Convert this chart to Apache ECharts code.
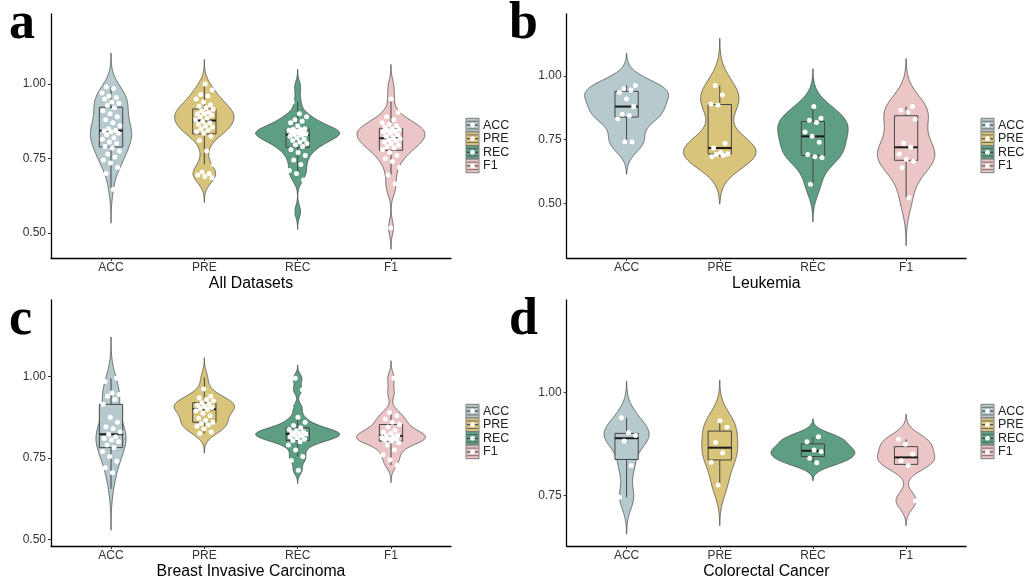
<!DOCTYPE html>
<html><head><meta charset="utf-8">
<script src="https://cdn.jsdelivr.net/npm/echarts@6/dist/echarts.min.js"></script>
<style>html,body{margin:0;padding:0;background:#fff}#c{width:1027px;height:583px}</style>
</head><body><div id="c"></div>
<script>
// ---------- categories / labels ----------
const metrics = ['ACC', 'PRE', 'REC', 'F1'];
const panelLetters = ['a', 'b', 'c', 'd'];
const panelTitles = ['All Datasets', 'Leukemia', 'Breast Invasive Carcinoma', 'Colorectal Cancer'];
const yTickValues = [[0.50, 0.75, 1.00], [0.50, 0.75, 1.00], [0.50, 0.75, 1.00], [0.75, 1.00]];
const yRanges = [[0.4161, 1.2349], [0.2852, 1.2435], [0.4794, 1.2359], [0.6279, 1.2250]];

// ---------- data (per-dataset scores) ----------
const allACC = [0.647,0.70,0.72,0.735,0.745,0.755,0.765,0.775,0.785,0.79,0.80,0.805,0.815,0.82,0.83,0.835,0.84,0.842,0.845,0.85,0.86,0.87,0.88,0.89,0.90,0.91,0.92,0.928,0.935,0.94,0.95,0.955,0.96,0.97,0.985,0.99];
const allPRE = [0.685,0.69,0.695,0.70,0.705,0.73,0.775,0.81,0.825,0.835,0.84,0.845,0.85,0.855,0.86,0.865,0.87,0.875,0.88,0.885,0.89,0.895,0.90,0.90,0.905,0.91,0.915,0.92,0.925,0.93,0.94,0.95,0.96,0.965,0.98,1.00];
const allREC = [0.572,0.678,0.70,0.71,0.73,0.745,0.76,0.77,0.78,0.79,0.795,0.80,0.805,0.81,0.815,0.82,0.825,0.828,0.83,0.832,0.835,0.838,0.84,0.842,0.845,0.847,0.848,0.85,0.86,0.87,0.875,0.88,0.89,0.90,0.94,0.99];
const allF1  = [0.518,0.64,0.665,0.695,0.72,0.74,0.75,0.76,0.77,0.78,0.785,0.79,0.795,0.80,0.805,0.81,0.813,0.816,0.82,0.825,0.83,0.835,0.84,0.842,0.845,0.848,0.85,0.855,0.86,0.865,0.87,0.88,0.89,0.905,0.95,0.993];

const leuACC = [0.741,0.742,0.832,0.845,0.85,0.88,0.91,0.935,0.945,0.95,0.963];
const leuPRE = [0.683,0.688,0.692,0.695,0.70,0.717,0.736,0.886,0.89,0.925,0.963];
const leuREC = [0.575,0.68,0.683,0.692,0.74,0.763,0.78,0.817,0.826,0.834,0.88];
const leuF1  = [0.522,0.64,0.665,0.673,0.694,0.72,0.736,0.83,0.858,0.865,0.88];

const brcACC = [0.655,0.705,0.72,0.74,0.755,0.77,0.782,0.79,0.80,0.805,0.81,0.815,0.823,0.83,0.84,0.846,0.86,0.875,0.915,0.93,0.94,0.945,0.95,0.985,0.995];
const brcPRE = [0.825,0.83,0.84,0.848,0.852,0.856,0.86,0.865,0.872,0.88,0.888,0.895,0.90,0.902,0.905,0.908,0.912,0.916,0.92,0.925,0.93,0.935,0.94,0.962,0.998];
const brcREC = [0.712,0.742,0.755,0.775,0.79,0.80,0.804,0.808,0.812,0.815,0.818,0.821,0.824,0.826,0.828,0.831,0.834,0.838,0.843,0.85,0.86,0.875,0.905,0.96,0.995];
const brcF1  = [0.728,0.745,0.76,0.775,0.79,0.797,0.802,0.805,0.808,0.81,0.813,0.816,0.818,0.82,0.825,0.83,0.835,0.845,0.853,0.86,0.87,0.88,0.89,0.95,0.995];

const crcACC = [0.746,0.823,0.883,0.896,0.903,0.939];
const crcPRE = [0.776,0.831,0.854,0.879,0.916,0.932];
const crcREC = [0.830,0.841,0.857,0.861,0.881,0.893];
const crcF1  = [0.738,0.823,0.835,0.851,0.875,0.887];

const panelData = [
  [allACC, allPRE, allREC, allF1],
  [leuACC, leuPRE, leuREC, leuF1],
  [brcACC, brcPRE, brcREC, brcF1],
  [crcACC, crcPRE, crcREC, crcF1]
];

// ---------- styles ----------
const colors = ['#b6c9cd', '#d9c47c', '#5e9f84', '#ecc6c6'];
const grids = [
  {left: 51, top: 14, width: 400, height: 244},
  {left: 566.7, top: 14, width: 399.3, height: 244},
  {left: 51, top: 300, width: 400, height: 246},
  {left: 566.7, top: 300, width: 399.3, height: 246}
];
const X_MIN = -0.643, X_MAX = 3.643;
const VIOLIN_WIDTH = 0.9, BOX_WIDTH = 0.25, JITTER = 0.1;

// ---------- statistics ----------
function quantile(s, p) {
  const h = (s.length - 1) * p, lo = Math.floor(h), hi = Math.min(lo + 1, s.length - 1);
  return s[lo] + (h - lo) * (s[hi] - s[lo]);
}
function stats(vals) {
  const s = [...vals].sort((a, b) => a - b), n = s.length;
  const q1 = quantile(s, .25), med = quantile(s, .5), q3 = quantile(s, .75), iqr = q3 - q1;
  const lo = s.find(v => v >= q1 - 1.5 * iqr);
  const hi = [...s].reverse().find(v => v <= q3 + 1.5 * iqr);
  const mean = s.reduce((a, b) => a + b, 0) / n;
  const sd = Math.sqrt(s.reduce((a, v) => a + (v - mean) ** 2, 0) / (n - 1));
  let m = Math.min(sd, iqr / 1.34);
  if (!(m > 0)) m = sd || 1;
  const bw = 0.9 * m * Math.pow(n, -0.2);
  return {s, q1, med, q3, lo, hi, bw};
}
function kde(st) {
  const N = 240, a = st.s[0] - 3 * st.bw, b = st.s[st.s.length - 1] + 3 * st.bw, out = [];
  for (let k = 0; k < N; k++) {
    const y = a + (b - a) * k / (N - 1);
    let d = 0;
    for (const v of st.s) { const z = (y - v) / st.bw; d += Math.exp(-0.5 * z * z); }
    out.push([y, d / (st.s.length * st.bw * Math.sqrt(2 * Math.PI))]);
  }
  return out;
}

const series = [], xAxes = [], yAxes = [], graphics = [];
panelData.forEach((groups, p) => {
  const st = groups.map(stats);
  const dens = st.map(kde);
  const maxD = Math.max(...dens.map(d => Math.max(...d.map(r => r[1]))));
  const profiles = dens.map(d => d.map(([y, v]) => [y, v / maxD * VIOLIN_WIDTH / 2]));

  xAxes.push({
    type: 'value', gridIndex: p, min: X_MIN, max: X_MAX,
    name: panelTitles[p], nameLocation: 'middle', nameGap: 18,
    nameTextStyle: {fontFamily: 'Liberation Sans', fontSize: 15.8, color: '#000'},
    axisLine: {show: true, onZero: false, lineStyle: {color: '#000', width: 1.3}},
    axisTick: {show: true, customValues: [0, 1, 2, 3], length: 3, lineStyle: {color: '#333'}},
    axisLabel: {customValues: [0, 1, 2, 3], formatter: v => metrics[Math.round(v)], margin: 4,
      fontFamily: 'Liberation Sans', fontSize: 12, color: '#333'},
    splitLine: {show: false}
  });
  yAxes.push({
    type: 'value', gridIndex: p, min: yRanges[p][0], max: yRanges[p][1],
    axisLine: {show: true, onZero: false, lineStyle: {color: '#000', width: 1.3}},
    axisTick: {show: true, customValues: yTickValues[p], length: 3, lineStyle: {color: '#333'}},
    axisLabel: {customValues: yTickValues[p], formatter: v => v.toFixed(2), margin: 5,
      fontFamily: 'Liberation Sans', fontSize: 12, color: '#333'},
    splitLine: {show: false}
  });

  // violins
  series.push({
    type: 'custom', xAxisIndex: p, yAxisIndex: p, z: 1, silent: true,
    data: st.map((s, i) => [i, s.med]),
    encode: {x: 0, y: 1},
    renderItem: (params, api) => {
      const i = params.dataIndex, prof = profiles[i];
      const right = prof.map(([y, w]) => api.coord([i + w, y]));
      const left = prof.slice().reverse().map(([y, w]) => api.coord([i - w, y]));
      return {type: 'polygon', shape: {points: right.concat(left)},
        style: {fill: colors[i], stroke: '#3c3c3c', lineWidth: 0.7}};
    }
  });
  // boxplots
  series.push({
    type: 'custom', xAxisIndex: p, yAxisIndex: p, z: 2, silent: true,
    data: st.map((s, i) => [i, s.lo, s.q1, s.med, s.q3, s.hi]),
    encode: {x: 0, y: [1, 2, 3, 4, 5]},
    renderItem: (params, api) => {
      const i = api.value(0), w = BOX_WIDTH / 2;
      const pLo = api.coord([i, api.value(1)]), pQ1 = api.coord([i, api.value(2)]);
      const pMed = api.coord([i, api.value(3)]), pQ3 = api.coord([i, api.value(4)]);
      const pHi = api.coord([i, api.value(5)]);
      const xL = api.coord([i - w, 0])[0], xR = api.coord([i + w, 0])[0];
      const ls = {stroke: '#454545', lineWidth: 1};
      return {type: 'group', children: [
        {type: 'line', shape: {x1: pQ1[0], y1: pQ1[1], x2: pLo[0], y2: pLo[1]}, style: ls},
        {type: 'line', shape: {x1: pQ3[0], y1: pQ3[1], x2: pHi[0], y2: pHi[1]}, style: ls},
        {type: 'rect', shape: {x: xL, y: pQ3[1], width: xR - xL, height: pQ1[1] - pQ3[1]},
          style: {fill: colors[i], stroke: '#454545', lineWidth: 1}},
        {type: 'line', shape: {x1: xL, y1: pMed[1], x2: xR, y2: pMed[1]}, style: {stroke: '#1a1a1a', lineWidth: 2}}
      ]};
    }
  });
  // jittered points (deterministic golden-ratio spread)
  groups.forEach((vals, i) => {
    series.push({
      type: 'scatter', xAxisIndex: p, yAxisIndex: p, z: 3, silent: true,
      symbolSize: 5, itemStyle: {color: '#ffffff', opacity: 1},
      data: vals.map((v, k) => {
        const f = ((k + 1) * 0.6180339 + i * 0.29 + p * 0.17) % 1;
        return [i + (2 * f - 1) * JITTER, v];
      })
    });
  });

  // panel letter
  const g = grids[p];
  graphics.push({type: 'text', left: p % 2 === 0 ? 9 : 509, top: p < 2 ? -1 : 295,
    style: {text: panelLetters[p], font: 'bold 52px "Liberation Serif"', fill: '#000'}});
  // legend
  const lx = g.left + g.width + 15, ly0 = p < 2 ? 118.3 : 404.3, kh = 13.6;
  metrics.forEach((m, i) => {
    const y = ly0 + i * kh;
    graphics.push({type: 'rect', shape: {x: lx, y: y, width: 13, height: kh},
      style: {fill: colors[i], stroke: '#7a7a7a', lineWidth: 1}});
    graphics.push({type: 'line', shape: {x1: lx + 1, y1: y + 3, x2: lx + 12, y2: y + 3}, style: {stroke: '#555', lineWidth: 0.8}});
    graphics.push({type: 'line', shape: {x1: lx + 1, y1: y + kh - 3, x2: lx + 12, y2: y + kh - 3}, style: {stroke: '#555', lineWidth: 0.8}});
    graphics.push({type: 'line', shape: {x1: lx + 1, y1: y + kh / 2, x2: lx + 12, y2: y + kh / 2}, style: {stroke: '#333', lineWidth: 1}});
    graphics.push({type: 'circle', shape: {cx: lx + 6.5, cy: y + kh / 2, r: 2.4}, style: {fill: '#fff'}});
    graphics.push({type: 'text', x: lx + 17, y: y + kh / 2,
      style: {text: m, font: '12.5px "Liberation Sans"', fill: '#222', verticalAlign: 'middle'}});
  });
});

const chart = echarts.init(document.getElementById('c'), null, {renderer: 'canvas'});
chart.setOption({
  animation: false,
  backgroundColor: '#fff',
  grid: grids.map(g => Object.assign({containLabel: false}, g)),
  xAxis: xAxes, yAxis: yAxes, series: series, graphic: graphics
});
</script></body></html>
